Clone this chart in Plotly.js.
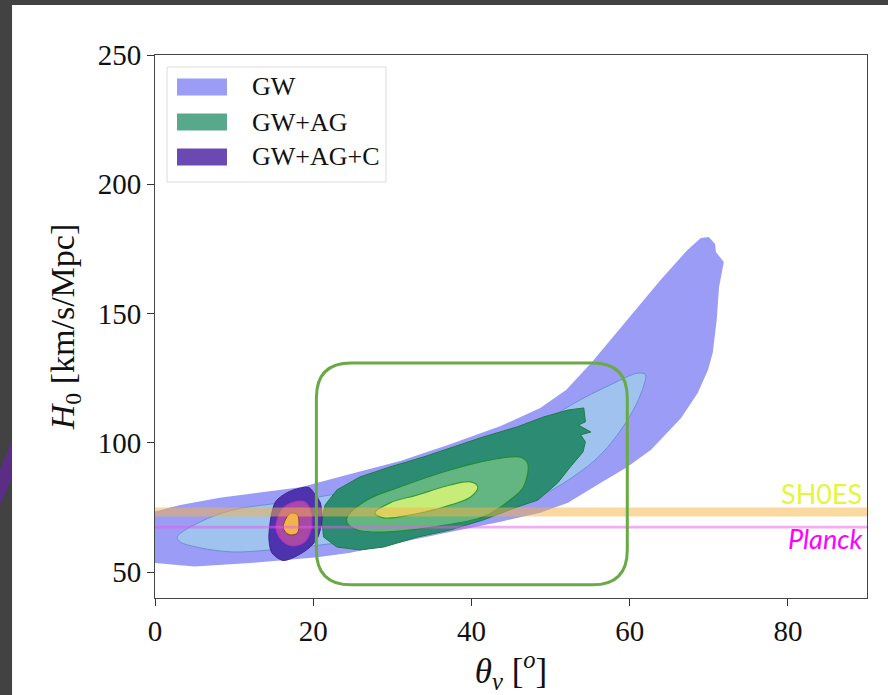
<!DOCTYPE html>
<html>
<head>
<meta charset="utf-8">
<script src="https://cdn.plot.ly/plotly-3.0.1.min.js"></script>
<style>html,body{margin:0;padding:0;background:#fff;}#chart{width:888px;height:695px;}</style>
</head>
<body>
<div id="chart"></div>
<script>
// ---- data (theta_v in degrees, H0 in km/s/Mpc) ----
const seriesNames = ["GW", "GW+AG", "GW+AG+C"];
const legendColors = ["#9a9cf6", "#58a98b", "#6a4ab2"];

const gwOuterTheta = [0,3.2,8.2,13.3,18.4,24.7,31.0,37.3,43.7,48.7,52.0,55.3,59.7,63.9,67.3,69.0,70.0,70.8,70.9,71.9,71.3,71.0,70.5,69.9,68.6,66.5,62.7,59.7,56.3,52.2,48.7,43.7,37.3,31.0,24.7,20.5,12.0,5.0,0];
const gwOuterH     = [73.5,76.0,78.8,80.8,82.8,88.0,93.0,99.5,106.5,113.5,120.5,131.5,147.5,163.0,174.6,179.2,179.6,176.9,173.8,169.9,160.3,147.5,134.8,128.2,119.3,109.6,97.3,90.7,84.5,76.8,73.0,69.5,65.5,61.5,57.5,55.8,53.5,52.2,53.5];

const gwInnerTheta = [2.8,5.7,9.9,15.8,22.2,31.0,38.6,46.2,52.5,57.6,61.1,62.0,61.8,60.8,58.9,56.3,53.2,49.4,43.7,36.1,28.5,20.9,14.6,9.9,5.7,3.2];
const gwInnerH     = [63.6,69.4,74.1,76.8,79.9,86.0,93.0,102.0,114.5,122.5,127.0,126.3,122.4,114.7,105.0,95.3,87.6,80.6,74.1,68.3,63.6,60.5,58.6,57.8,59.4,61.7];

const agOuterTheta = [21.3,21.1,21.5,23.0,25.9,29.7,33.9,37.3,41.5,45.8,49.1,52.2,54.2,54.4,53.5,55.1,53.8,54.4,54.1,52.5,50.9,48.4,45.8,41.5,37.3,33.2,28.9,25.9,23.0];
const agOuterH     = [63.6,70.2,76.0,81.8,86.8,90.7,94.5,98.0,102.3,106.2,110.0,112.7,113.5,108.1,106.9,104.2,103.1,100.4,96.5,90.7,84.5,77.9,75.2,70.2,66.3,63.6,59.7,58.6,59.7];

const agMidTheta = [24.3,26.8,31.0,37.3,42.4,46.2,47.1,46.6,44.9,41.5,35.2,28.9,25.6,24.3];
const agMidH     = [71.4,77.9,83.0,89.5,93.4,94.5,92.2,83.0,77.9,71.4,67.5,65.5,66.3,69.0];

const agInnerTheta = [27.8,29.7,33.2,37.3,39.9,40.8,39.9,36.5,32.3,28.9];
const agInnerH     = [72.9,76.8,79.9,83.7,84.9,83.0,79.1,75.2,72.1,71.0];

const cOuterTheta = [14.4,15.2,17.0,19.4,20.1,20.9,21.1,20.6,19.6,18.0,16.2,14.8];
const cOuterH     = [63.6,77.0,81.2,82.8,80.6,76.8,70.2,63.6,59.7,56.4,54.5,57.4];

const cMidTheta = [15.3,16.1,17.5,19.0,19.7,19.7,18.8,17.1,15.7];
const cMidH     = [67.5,74.3,77.0,77.0,72.9,66.3,61.5,60.3,63.6];

const cInnerTheta = [16.2,16.7,17.3,18.0,18.2,18.0,17.1,16.5];
const cInnerH     = [67.5,71.4,72.9,72.1,69.0,65.1,64.4,65.5];

const sh0esBand  = [71.5, 75.0];
const planckBand = [66.9, 67.9];
const bandLabels = ["SH0ES", "Planck"];

const xTicks = [0, 20, 40, 60, 80];
const yTicks = [50, 100, 150, 200, 250];

// ---- helpers ----
function closed(a) { return a.concat([a[0]]); }
function region(xs, ys, fill, line, opts) {
  return Object.assign({
    type: 'scatter', mode: 'lines', x: closed(xs), y: closed(ys),
    fill: 'toself', fillcolor: fill,
    line: {color: line, width: 1},
    hoverinfo: 'skip', showlegend: false
  }, opts || {});
}

const traces = [
  region(gwOuterTheta, gwOuterH, '#9a9cf6', '#9a9cf6', {name: seriesNames[0], line: {width: 0, color: '#9a9cf6'}}),
  region(gwInnerTheta, gwInnerH, '#9fc3ee', '#6b8fd6', {name: seriesNames[0], line: {color: '#6b8fd6', width: 1, shape: 'spline', smoothing: 1}}),
  region(agOuterTheta, agOuterH, '#2c8c73', '#1f7a45', {name: seriesNames[1]}),
  region(agMidTheta, agMidH, '#63b682', '#228a3a', {name: seriesNames[1], line: {color: '#228a3a', width: 1.2, shape: 'spline', smoothing: 1}}),
  region(agInnerTheta, agInnerH, '#c8ec78', '#3a9a35', {name: seriesNames[1], line: {color: '#3a9a35', width: 1.2, shape: 'spline', smoothing: 1}}),
  region(cOuterTheta, cOuterH, '#4e33ae', '#3b2296', {name: seriesNames[2], line: {color: '#3b2296', width: 1, shape: 'spline', smoothing: 0.8}}),
  region(cMidTheta, cMidH, '#a64aa6', '#c02cc0', {name: seriesNames[2], line: {color: '#c02cc0', width: 1.2, shape: 'spline', smoothing: 1}}),
  region(cInnerTheta, cInnerH, '#f0b44c', '#8a3a3a', {name: seriesNames[2], line: {color: '#8a3a3a', width: 1, shape: 'spline', smoothing: 1}})
];

// rounded highlight box (data units)
const bx0 = 20.4, bx1 = 59.7, by0 = 45.1, by1 = 130.9, rx = 4.4, ry = 13.5;
const boxPath = `M${bx0+rx},${by1} L${bx1-rx},${by1} Q${bx1},${by1} ${bx1},${by1-ry} L${bx1},${by0+ry} Q${bx1},${by0} ${bx1-rx},${by0} L${bx0+rx},${by0} Q${bx0},${by0} ${bx0},${by0+ry} L${bx0},${by1-ry} Q${bx0},${by1} ${bx0+rx},${by1} Z`;

const serif = 'Liberation Serif, Times New Roman, serif';

// legend drawn in paper coordinates (box, swatches, labels)
const legX0 = 0.0169, legX1 = 0.3244, legY0 = 0.7661, legY1 = 0.9779;
const rowY = [0.9411, 0.8766, 0.8122];
const swX0 = 0.0309, swX1 = 0.1011, swHalf = 0.0157, txtX = 0.1334;

const shapes = [
  {type: 'rect', xref: 'x', yref: 'y', x0: 0, x1: 90, y0: sh0esBand[0], y1: sh0esBand[1], fillcolor: 'rgba(246,178,70,0.5)', line: {width: 0}, layer: 'above'},
  {type: 'rect', xref: 'x', yref: 'y', x0: 0, x1: 90, y0: planckBand[0], y1: planckBand[1], fillcolor: 'rgba(232,90,232,0.5)', line: {width: 0}, layer: 'above'},
  {type: 'path', xref: 'x', yref: 'y', path: boxPath, line: {color: '#6aaa45', width: 3}, fillcolor: 'rgba(0,0,0,0)', layer: 'above'},
  // legend frame
  {type: 'rect', xref: 'paper', yref: 'paper', x0: legX0, x1: legX1, y0: legY0, y1: legY1, fillcolor: 'rgba(255,255,255,0.9)', line: {color: '#dcdcdc', width: 1}, layer: 'above'},
  // slide frame
  {type: 'rect', xref: 'paper', yref: 'paper', x0: -0.25, x1: -0.2008, y0: -0.3, y1: 1.2, fillcolor: '#424242', line: {width: 0}, layer: 'below'},
  {type: 'rect', xref: 'paper', yref: 'paper', x0: -0.25, x1: 1.1, y0: 1.0921, y1: 1.2, fillcolor: '#424242', line: {width: 0}, layer: 'below'},
  {type: 'path', xref: 'paper', yref: 'paper', path: 'M-0.2177,0.2357 L-0.2008,0.2910 L-0.2008,0.2210 L-0.2177,0.1713 Z', fillcolor: '#5c2d84', line: {width: 0}, layer: 'below'}
];
const annotations = [
  {xref: 'x', yref: 'y', x: 89.6, y: 80.6, xanchor: 'right', yanchor: 'middle', showarrow: false,
   text: bandLabels[0], font: {family: 'Lato, Open Sans, sans-serif', size: 27, color: '#e4f53e'}},
  {xref: 'x', yref: 'y', x: 89.6, y: 63.2, xanchor: 'right', yanchor: 'middle', showarrow: false,
   text: '<i>' + bandLabels[1] + '</i>', font: {family: 'Lato, Open Sans, sans-serif', size: 27, color: '#ff00ff'}}
];
seriesNames.forEach((name, i) => {
  shapes.push({type: 'rect', xref: 'paper', yref: 'paper', x0: swX0, x1: swX1, y0: rowY[i] - swHalf, y1: rowY[i] + swHalf,
               fillcolor: legendColors[i], line: {width: 0}, layer: 'above'});
  annotations.push({xref: 'paper', yref: 'paper', x: txtX, y: rowY[i], xanchor: 'left', yanchor: 'middle', showarrow: false,
                    text: name, font: {family: serif, size: 26, color: '#111'}});
});

const layout = {
  width: 888, height: 695,
  margin: {l: 155, r: 21, t: 55, b: 97},
  paper_bgcolor: '#ffffff', plot_bgcolor: '#ffffff',
  font: {family: serif, color: '#111'},
  showlegend: false,
  xaxis: {
    range: [0, 90], tickvals: xTicks, ticks: 'outside', ticklen: 7, tickcolor: '#333',
    showline: true, linecolor: '#444', linewidth: 1, mirror: true, showgrid: false, zeroline: false,
    tickfont: {family: serif, size: 29, color: '#111'},
    title: {text: '<i>θ</i><sub><i>v</i></sub> [<sup><i>o</i></sup>]', font: {family: serif, size: 35, color: '#111'}, standoff: 8}
  },
  yaxis: {
    range: [40, 250], tickvals: yTicks, ticks: 'outside', ticklen: 7, tickcolor: '#333',
    showline: true, linecolor: '#444', linewidth: 1, mirror: true, showgrid: false, zeroline: false,
    tickfont: {family: serif, size: 29, color: '#111'},
    title: {text: '<i>H</i><sub>0</sub> [km/s/Mpc]', font: {family: serif, size: 34, color: '#111'}, standoff: 12}
  },
  shapes: shapes,
  annotations: annotations
};

Plotly.newPlot('chart', traces, layout, {staticPlot: true, displayModeBar: false});
</script>
</body>
</html>
